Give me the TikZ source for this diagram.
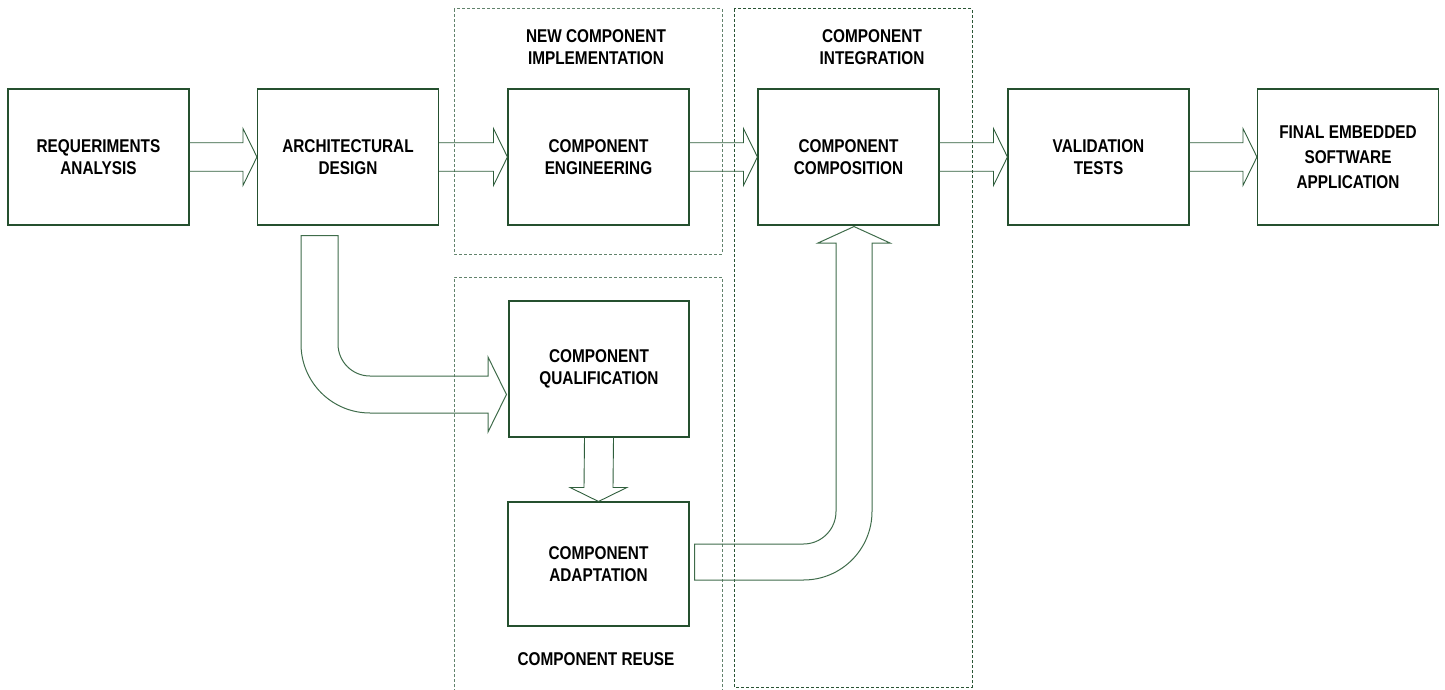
\documentclass[tikz,border=0pt]{standalone}
\usepackage{fontspec}
\setmainfont{Liberation Sans}[FakeStretch=0.83]
\usetikzlibrary{calc}

\definecolor{boxgreen}{HTML}{25502F}
\definecolor{arrowgreen}{HTML}{2F5E3C}
\definecolor{bendgreen}{HTML}{3F6C4B}
\definecolor{dashlight}{HTML}{62836C}
\definecolor{dashdark}{HTML}{2A5535}

\newcommand\lblfont{\bfseries\fontsize{18.5}{21.7}\selectfont}

% straight block arrow from the east side of #1 to the west side of #2
\newcommand\rightblock[2]{%
  \draw[blockarrow] ($(#1.east)+(0,-14.2)$) -- ($(#2.west)+(-14,-14.2)$)
    -- ($(#2.west)+(-14,-28.5)$) -- (#2.west) -- ($(#2.west)+(-14,28.5)$)
    -- ($(#2.west)+(-14,14.2)$) -- ($(#1.east)+(0,14.2)$);}

\begin{document}
\begin{tikzpicture}[x=1pt,y=-1pt,
  stepbox/.style={draw=boxgreen,line width=1.1pt,minimum width=181pt,
    minimum height=136pt,inner sep=0pt,align=center,font=\lblfont},
  title/.style={align=center,font=\lblfont,inner sep=0pt},
  blockarrow/.style={draw=arrowgreen,line width=0.9pt,line join=miter},
  bendarrow/.style={draw=bendgreen,line width=1pt,line join=miter},
  groupbox/.style={line width=1pt,dash pattern=on 3pt off 2pt},
]
\useasboundingbox (0,0) rectangle (1445,690);

% process groups
\draw[groupbox,draw=dashlight] (454,9) rectangle (722,254);
\draw[groupbox,draw=dashlight] (454,692) -- (454,277) -- (722,277) -- (722,692);
\draw[groupbox,draw=dashdark] (734,9) rectangle (972,687);

\node[title] (tnew) at (596,47) {NEW COMPONENT\\IMPLEMENTATION};
\node[title] (tint) at (872,47) {COMPONENT\\INTEGRATION};
\node[title] (treuse) at (596,659) {COMPONENT REUSE};

% process steps
\node[stepbox] (req) at (98.5,157) {REQUERIMENTS\\ANALYSIS};
\node[stepbox] (arch) at (348,157) {ARCHITECTURAL\\DESIGN};
\node[stepbox] (eng) at (598.5,157) {COMPONENT\\ENGINEERING};
\node[stepbox] (comp) at (848.5,157) {COMPONENT\\COMPOSITION};
\node[stepbox] (val) at (1098.5,157) {VALIDATION\\TESTS};
\node[stepbox,font=\lblfont\linespread{1.07}\selectfont] (final) at (1348,157)
  {FINAL EMBEDDED\\[1.6pt]SOFTWARE\\[1.6pt]APPLICATION};
\node[stepbox,minimum width=180pt] (qual) at (599,369) {COMPONENT\\QUALIFICATION};
\node[stepbox,minimum height=124pt] (adapt) at (598.5,564) {COMPONENT\\ADAPTATION};

% main flow
\rightblock{req}{arch}
\rightblock{arch}{eng}
\rightblock{eng}{comp}
\rightblock{comp}{val}
\rightblock{val}{final}

% qualification -> adaptation
\draw[blockarrow] ($(qual.south)+(-14.5,0)$) -- ($(adapt.north)+(-14.5,-14)$)
  -- ($(adapt.north)+(-28.5,-14)$) -- (adapt.north) -- ($(adapt.north)+(28.5,-14)$)
  -- ($(adapt.north)+(14.5,-14)$) -- ($(qual.south)+(14.5,0)$);

% design -> qualification (bent arrow)
\draw[bendarrow] ($(arch.south)+(-47,10)$) -- ($(arch.south)+(-10,10)$) -- (338,344)
  arc[start angle=180,end angle=90,radius=32] -- (488,376) -- (488,357)
  -- ($(qual.west)+(-2,25.5)$) -- (488,432) -- (488,413) -- (370,413)
  arc[start angle=90,end angle=180,radius=69] -- cycle;

% adaptation -> composition (bent arrow)
\draw[bendarrow] ($(adapt.east)+(5,-20)$) -- (803.5,544)
  arc[start angle=90,end angle=0,radius=32.5] -- (836,243) -- (818,243)
  -- ($(comp.south)+(5.5,1)$) -- (890,243) -- (872,243) -- (872,511.5)
  arc[start angle=0,end angle=90,radius=68.5] -- ($(adapt.east)+(5,16)$) -- cycle;
\end{tikzpicture}
\end{document}
